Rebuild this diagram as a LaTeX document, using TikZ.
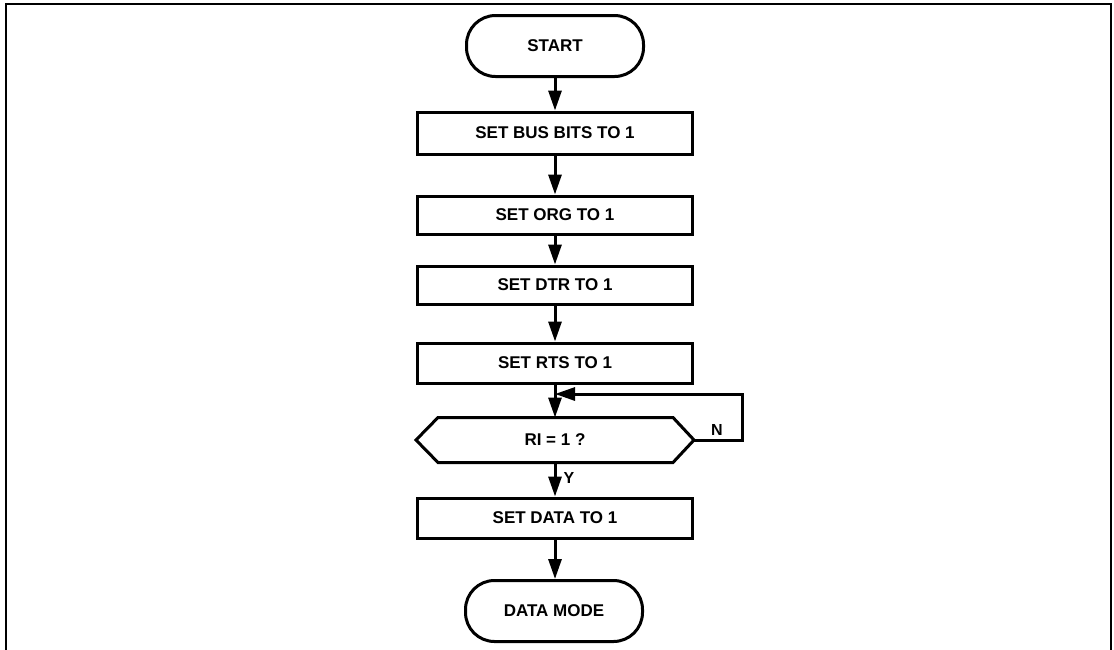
\documentclass[tikz,border=0pt]{standalone}
\usepackage{fontspec}
\setmainfont{Liberation Sans}
\usetikzlibrary{arrows.meta}
\begin{document}
\begin{tikzpicture}[x=1pt,y=-1pt,
  line width=3pt,
  every node/.style={font=\fontsize{17}{20}\selectfont\bfseries, inner sep=0pt},
  procbox/.style={draw, rectangle, minimum width=275pt, minimum height=40pt},
  termbox/.style={draw, rectangle, rounded corners=29pt, minimum width=177pt, minimum height=61pt},
  flow/.style={-{Triangle[length=20pt,width=13pt]}},
  lbl/.style={font=\fontsize{16}{18}\selectfont\bfseries}
]
\useasboundingbox (0,0) rectangle (1114,649);
\draw[line width=2pt] (6,660) -- (6,4) -- (1111,4) -- (1111,660);

\node[termbox] (start) at (555,46) {START};
\node[procbox, minimum height=42pt] (bus) at (555,133) {SET BUS BITS TO 1};
\node[procbox, minimum height=38pt] (org) at (555,215) {SET ORG TO 1};
\node[procbox, minimum height=38pt] (dtr) at (555,285) {SET DTR TO 1};
\node[procbox] (rts) at (555,363) {SET RTS TO 1};
\node[rectangle, minimum width=275pt, minimum height=42pt] (dec) at (555,440) {RI = 1 ?};
\draw (dec.west) -- ([xshift=22pt]dec.north west) -- ([xshift=-21pt]dec.north east)
      -- (dec.east) -- ([xshift=-21pt]dec.south east) -- ([xshift=22pt]dec.south west) -- cycle;
\node[procbox] (data) at (555,518) {SET DATA TO 1};
\node[termbox] (mode) at (554,611) {DATA MODE};

\draw[flow] (start) -- (bus);
\draw[flow] (bus) -- (org);
\draw[flow] (org) -- (dtr);
\draw[flow] (dtr) -- (rts);
\draw[flow] (rts) -- (dec.north);
\draw[flow] (dec.south) -- (data);
\draw[flow] (data) -- (mode.north -| data);

\coordinate (loopR) at (742,440);
\coordinate (loopT) at (742,394);
\coordinate (join) at (555,394);
\draw[flow] (dec.east) -- (loopR) -- (loopT) -- (join);

\node[lbl] (ylbl) at (569,478) {Y};
\node[lbl] (nlbl) at (717,430) {N};
\end{tikzpicture}
\end{document}
